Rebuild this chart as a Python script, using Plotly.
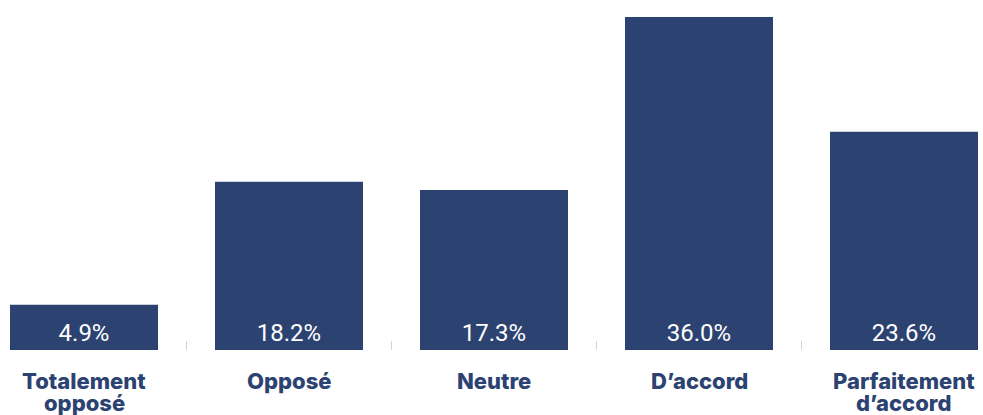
import plotly.graph_objects as go

# Survey responses and their shares (%)
categories = ["Totalement opposé", "Opposé", "Neutre", "D’accord", "Parfaitement d’accord"]
label_lines = [["Totalement", "opposé"], ["Opposé"], ["Neutre"], ["D’accord"], ["Parfaitement", "d’accord"]]
shares = [4.9, 18.2, 17.3, 36.0, 23.6]

NAVY = "#2c4372"

fig = go.Figure(
    go.Bar(
        x=categories,
        y=shares,
        marker=dict(color=NAVY, line=dict(width=0)),
        text=[f"{v:.1f}%" for v in shares],
        textposition="inside",
        insidetextanchor="start",
        textangle=0,
        textfont=dict(family="Roboto, Arial, sans-serif", size=24, color="white"),
        cliponaxis=False,
        hoverinfo="skip",
    )
)

# Category labels, one annotation per line for tight line spacing
annotations = []
for cat, lines in zip(categories, label_lines):
    for i, line in enumerate(lines):
        annotations.append(
            dict(
                x=cat, xref="x", y=0, yref="paper",
                text=line, showarrow=False,
                xanchor="center", yanchor="middle",
                yshift=-31 - 22 * i,
                font=dict(family="Inter, Arial, sans-serif", size=22, color=NAVY, weight=800),
            )
        )

fig.update_layout(
    width=983, height=415,
    margin=dict(l=0, r=0, t=0, b=65),
    paper_bgcolor="white", plot_bgcolor="white",
    bargap=0.278,
    showlegend=False,
    annotations=annotations,
    xaxis=dict(
        range=[-0.4098, 4.3854],
        showticklabels=False,
        tickson="boundaries",
        ticks="inside", ticklen=9, tickwidth=1, tickcolor="#cfd5e0",
        showgrid=False, zeroline=False, showline=False,
        fixedrange=True,
    ),
    yaxis=dict(
        range=[0, 37.84],
        visible=False,
        fixedrange=True,
    ),
)

fig.write_html("out.html", config={"displayModeBar": False})
